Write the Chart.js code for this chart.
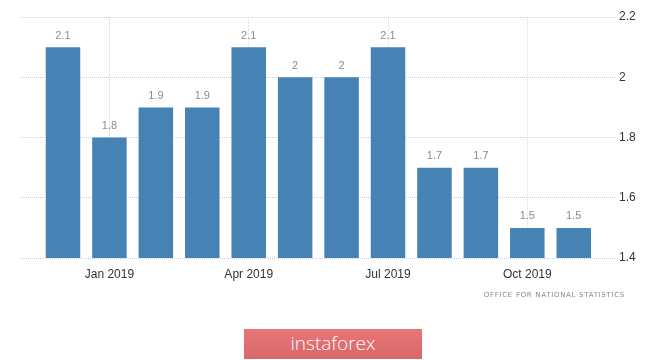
<!DOCTYPE html>
<html>
<head>
<meta charset="utf-8">
<script src="https://cdn.jsdelivr.net/npm/chart.js@4"></script>
<style>
  html, body { margin: 0; padding: 0; background: #fff; }
  #wrap { position: relative; width: 665px; height: 360px; overflow: hidden; }
  #chart { position: absolute; left: 0; top: 0; }
  #source {
    position: absolute; right: 40px; top: 291px;
    font: 7px "DejaVu Sans", sans-serif; letter-spacing: 0.7px; color: #8a8a8a;
  }
  #banner {
    position: absolute; left: 244px; top: 329px; width: 178px; height: 30px;
    background: linear-gradient(#e87677, #d8676a);
    color: #fff; font: 300 19px "Open Sans", sans-serif;
    text-align: center; line-height: 29px;
  }
</style>
</head>
<body>
<div id="wrap">
  <canvas id="chart" width="665" height="300"></canvas>
  <div id="source">OFFICE FOR NATIONAL STATISTICS</div>
  <div id="banner">instaforex</div>
</div>
<script>
const months = ["Dec 2018", "Jan 2019", "Feb 2019", "Mar 2019", "Apr 2019", "May 2019",
  "Jun 2019", "Jul 2019", "Aug 2019", "Sep 2019", "Oct 2019", "Nov 2019"];
const values = [2.1, 1.8, 1.9, 1.9, 2.1, 2, 2, 2.1, 1.7, 1.7, 1.5, 1.5];
const xTickLabels = ["Jan 2019", "Apr 2019", "Jul 2019", "Oct 2019"];
const yTicks = [1.4, 1.6, 1.8, 2, 2.2];

// bars sit on a linear axis so the grid can run past the first and last bar
const points = values.map((v, i) => ({ x: i, y: v }));
const xTickPos = xTickLabels.map(l => months.indexOf(l));

// value labels above each bar
const barLabels = {
  id: "barLabels",
  afterDatasetsDraw(chart) {
    const ctx = chart.ctx;
    const meta = chart.getDatasetMeta(0);
    ctx.save();
    ctx.font = "11px 'Liberation Sans', sans-serif";
    ctx.fillStyle = "#8c8c8c";
    ctx.textAlign = "center";
    ctx.textBaseline = "bottom";
    meta.data.forEach((bar, i) => {
      ctx.fillText(String(values[i]), bar.x, bar.y - 6);
    });
    ctx.restore();
  }
};

new Chart(document.getElementById("chart").getContext("2d"), {
  type: "bar",
  data: {
    datasets: [{
      data: points,
      backgroundColor: "#4682b4",
      borderWidth: 0,
      barPercentage: 0.743,
      categoryPercentage: 1
    }]
  },
  options: {
    responsive: false,
    animation: false,
    layout: { padding: { left: 20, top: 17, right: 0, bottom: 0 } },
    plugins: { legend: { display: false }, tooltip: { enabled: false } },
    scales: {
      x: {
        type: "linear",
        offset: false,
        min: -0.926,
        max: 11.91,
        afterBuildTicks(scale) {
          scale.ticks = xTickPos.map(v => ({ value: v }));
        },
        afterFit(scale) { scale.height = 42; },
        grid: { color: "#d9d9d9", drawTicks: false, offset: false },
        border: { display: false, dash: [1, 1] },
        ticks: {
          padding: 9,
          color: "#333",
          font: { family: "'Liberation Sans', sans-serif", size: 12 },
          callback: (v) => months[v]
        }
      },
      y: {
        position: "right",
        min: 1.4,
        max: 2.2,
        afterBuildTicks(scale) {
          scale.ticks = yTicks.map(v => ({ value: v }));
        },
        afterFit(scale) { scale.width = 49; },
        grid: { color: "#cfcfcf", drawTicks: false },
        border: { display: false, dash: [1, 1] },
        ticks: {
          padding: 3,
          color: "#333",
          font: { family: "'Liberation Sans', sans-serif", size: 12 },
          callback: (v) => String(+v.toFixed(1))
        }
      }
    }
  },
  plugins: [barLabels]
});
</script>
</body>
</html>
